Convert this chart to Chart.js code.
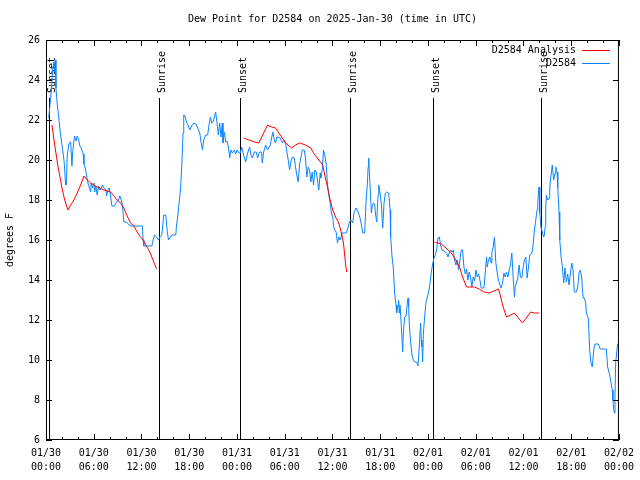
<!DOCTYPE html>
<html>
<head>
<meta charset="utf-8">
<script src="https://cdn.jsdelivr.net/npm/chart.js@4/dist/chart.umd.min.js"></script>
<style>
  html, body { margin: 0; padding: 0; background: #fff; }
  canvas { display: block; }
</style>
</head>
<body>
<canvas id="chart" width="640" height="480"></canvas>
<script>
// hours since 2025-01-30 00:00 UTC
var obsHours = [0.34,0.66,0.84,1.0,1.09,1.17,1.25,1.42,1.59,1.76,1.92,2.09,2.26,2.35,2.42,2.51,2.6,2.67,2.85,2.92,
  3.1,3.26,3.35,3.51,3.6,3.76,3.93,4.1,4.26,4.43,4.68,4.77,4.93,5.11,5.27,5.43,5.61,5.68,5.86,6.02,
  6.11,6.27,6.43,6.61,6.77,6.94,7.11,7.28,7.53,7.61,7.78,7.94,8.12,8.28,8.62,8.78,9.12,9.28,9.45,9.62,
  9.78,10.12,10.45,10.7,11.88,12.13,12.2,12.29,13.3,13.46,13.63,13.89,14.14,14.3,14.55,14.8,15.05,15.22,15.39,15.55,
  15.81,16.31,16.39,16.56,16.72,16.9,17.06,17.22,17.31,17.47,17.65,17.9,18.06,18.31,18.56,18.82,19.07,19.32,19.48,19.66,
  19.82,20.07,20.32,20.48,20.66,20.82,20.99,21.16,21.32,21.49,21.66,21.83,21.99,22.16,22.24,22.42,22.58,22.74,22.92,23.08,
  23.24,23.42,23.67,23.83,24.0,24.25,24.42,24.59,24.84,25.09,25.34,25.59,25.75,25.93,26.18,26.43,26.59,26.84,27.09,27.18,
  27.35,27.6,27.85,28.19,28.35,28.51,28.69,28.85,29.01,29.44,29.69,29.94,30.1,30.27,30.44,30.61,30.77,30.95,31.2,31.36,
  31.52,31.7,31.86,32.02,32.2,32.45,32.61,32.78,32.95,33.12,33.28,33.45,33.62,33.78,33.96,34.12,34.28,34.46,34.53,34.71,
  34.87,35.03,35.21,35.37,35.54,35.71,35.87,36.04,36.13,36.29,36.46,36.63,36.79,36.97,37.22,37.54,37.72,37.97,38.13,38.3,
  38.55,38.72,38.97,39.22,39.47,39.64,39.8,40.05,40.23,40.39,40.48,40.55,40.64,40.81,40.89,40.98,41.14,41.31,41.39,41.56,
  41.73,41.81,41.98,42.15,42.31,42.48,42.65,42.81,43.06,43.24,43.31,43.49,43.65,43.81,43.99,44.06,44.24,44.31,44.4,44.49,
  44.66,44.82,44.91,45.07,45.25,45.41,45.5,45.57,45.66,45.82,46.0,46.16,46.32,46.57,46.75,46.91,47.08,47.16,47.25,47.33,
  47.42,47.58,47.75,47.92,48.08,48.25,48.42,48.59,48.76,48.92,49.09,49.26,49.43,49.59,49.76,50.01,50.18,50.34,50.51,50.68,
  50.84,51.01,51.18,51.34,51.52,51.68,51.84,52.02,52.18,52.35,52.52,52.69,52.85,53.02,53.18,53.35,53.52,53.69,53.85,54.03,
  54.19,54.36,54.53,54.69,55.03,55.19,55.36,55.45,55.61,55.78,55.94,56.03,56.19,56.36,56.53,56.7,56.86,57.04,57.2,57.37,
  57.54,57.7,57.87,58.04,58.2,58.36,58.54,58.7,58.87,58.96,59.12,59.29,59.46,59.62,59.8,59.96,60.12,60.3,60.46,60.63,
  60.8,61.05,61.21,61.38,61.55,61.71,61.8,61.88,61.96,62.05,62.21,62.38,62.55,62.63,62.72,62.8,62.88,63.05,63.22,63.3,
  63.38,63.55,63.62,63.8,63.97,64.06,64.22,64.31,64.47,64.56,64.73,64.89,65.06,65.22,65.39,65.56,65.73,65.89,66.07,66.23,
  66.39,66.64,66.82,66.98,67.15,67.32,67.49,67.65,67.82,67.9,68.15,68.32,68.49,68.65,68.83,68.99,69.4,69.65,70.41,70.58,
  70.74,70.91,71.16,71.25,71.33,71.42,71.5,71.59,71.75,71.84,72.0];
var obsDewpt = [22.1,23.4,24.5,24.9,24.4,25.0,23.6,22.75,22.2,21.5,21.0,20.5,20.0,19.5,19.0,18.75,19.35,20.2,20.75,20.85,
  20.9,19.7,20.35,21.0,21.2,20.95,21.2,21.0,20.7,20.6,20.3,19.8,19.6,19.2,18.85,18.65,18.4,18.85,18.6,18.85,
  18.4,18.7,18.25,18.7,18.5,18.6,18.75,18.6,18.5,18.2,18.5,18.6,18.2,17.7,17.7,17.85,18.0,18.2,18.0,17.7,
  16.9,16.9,16.75,16.7,16.7,16.7,16.0,15.7,15.7,16.0,16.25,16.15,16.0,16.15,16.25,17.25,17.25,16.5,16.0,16.1,
  16.25,16.25,16.7,17.2,17.85,18.5,19.7,21.35,22.25,22.2,21.9,21.7,21.5,21.7,21.85,21.8,21.6,21.35,20.9,20.5,
  21.0,21.25,21.25,21.75,22.15,21.85,21.9,22.15,22.4,21.85,21.25,21.85,21.15,21.85,20.85,21.4,20.9,20.95,20.65,20.1,
  20.5,20.35,20.5,20.3,20.5,20.35,20.35,20.65,20.25,19.9,20.35,20.65,20.25,20.1,20.4,20.4,20.1,20.4,20.4,19.85,
  20.4,20.75,20.5,20.75,21.1,21.4,21.0,20.85,21.15,21.1,20.85,21.0,20.85,20.4,20.0,19.5,19.9,20.15,20.1,19.65,
  19.25,18.9,19.75,20.1,20.5,20.5,20.1,19.15,19.65,19.5,18.9,19.4,18.75,19.5,19.4,19.0,18.5,19.35,19.1,19.5,
  20.5,20.25,19.8,18.8,18.25,17.85,17.35,17.15,16.7,16.5,16.4,15.85,16.15,16.0,16.35,16.35,16.35,16.65,16.9,17.0,
  16.85,17.4,17.6,17.4,17.1,16.75,16.35,16.35,18.0,18.85,19.65,20.1,19.35,18.0,17.35,17.65,17.85,17.8,17.35,16.9,
  18.25,18.75,18.35,17.75,16.6,17.85,18.35,18.4,18.35,17.5,16.15,15.15,14.6,13.35,12.75,12.35,12.75,13.0,12.35,12.75,
  11.65,10.4,11.4,12.15,12.2,12.85,13.1,12.7,11.75,10.9,10.25,10.0,9.9,9.9,9.7,10.65,11.85,11.0,10.65,9.9,
  11.3,12.15,12.9,13.15,13.4,13.8,14.4,14.8,15.1,15.25,15.5,16.1,16.15,15.75,15.5,15.45,15.4,15.35,15.15,15.35,
  15.5,15.4,15.5,15.0,14.75,15.0,14.5,15.0,15.5,15.5,14.65,14.3,14.55,14.0,14.4,14.15,13.65,14.15,13.95,14.5,
  14.15,14.3,14.0,13.6,13.6,14.3,15.15,14.65,15.0,15.15,14.85,15.35,15.65,16.15,14.85,14.35,14.0,13.75,13.6,13.85,
  14.35,14.15,14.4,14.15,14.5,14.75,15.35,14.15,13.15,13.65,13.85,14.1,14.75,14.15,14.1,14.65,15.0,15.15,14.1,14.65,
  15.25,15.35,15.75,16.5,17.0,17.5,17.85,18.35,18.65,17.35,16.6,16.4,16.15,16.25,16.65,17.65,18.25,18.0,18.1,18.5,
  19.0,19.5,19.75,19.0,19.35,19.65,19.4,18.6,17.4,16.0,15.15,14.65,13.85,14.6,13.9,14.3,13.75,14.3,14.85,14.5,
  13.4,13.4,13.65,14.35,14.5,14.1,13.1,13.1,12.85,12.35,12.1,10.5,9.85,9.65,10.5,10.8,10.8,10.55,10.55,9.65,
  9.4,9.1,8.5,8.0,7.6,7.35,8.15,9.85,10.5,10.8,10.8];

// analysis runs, null separates them
var anaHours = [0.75,1.0,1.25,1.51,1.76,2.01,2.35,2.76,3.1,3.51,3.93,4.35,4.77,5.18,5.61,6.43,7.28,8.12,8.53,8.94,
  9.37,9.78,10.2,10.62,11.04,11.45,11.88,12.2,13.05,13.89,
  19.0,
  24.84,25.5,26.18,26.76,27.35,27.85,28.35,28.85,29.44,30.1,30.86,31.36,31.86,32.61,33.28,33.62,34.28,34.78,35.03,35.37,
  35.71,36.04,36.38,36.79,37.13,37.38,37.63,37.79,
  43.0,
  48.83,49.17,49.67,50.27,50.93,51.52,52.02,52.35,52.85,53.85,54.44,55.03,55.69,56.28,56.86,57.11,57.45,57.87,58.37,58.87,
  59.37,59.87,60.37,60.88,61.38,61.96];
var anaDewpt = [21.75,21.0,20.35,19.65,19.15,18.6,18.0,17.5,17.75,18.0,18.35,18.75,19.2,19.0,18.85,18.65,18.5,18.4,18.2,18.0,
  17.85,17.6,17.2,16.85,16.7,16.4,16.15,16.0,15.4,14.55,
  null,
  21.1,21.0,20.9,20.85,21.35,21.75,21.65,21.6,21.25,20.85,20.6,20.75,20.85,20.75,20.6,20.35,20.0,19.75,19.25,18.65,
  18.0,17.5,17.15,16.85,16.35,15.85,14.85,14.4,
  null,
  15.9,15.85,15.8,15.6,15.35,15.0,14.6,14.15,13.65,13.65,13.55,13.4,13.35,13.45,13.55,13.2,12.65,12.15,12.25,12.35,
  12.1,11.85,12.1,12.4,12.35,12.35];

var sunHours = [0.41, 14.17, 24.35, 38.18, 48.6, 62.25];
var sunLabels = ['Sunset', 'Sunrise', 'Sunset', 'Sunrise', 'Sunset', 'Sunrise'];

var tickDates = ['01/30','01/30','01/30','01/30','01/31','01/31','01/31','01/31','02/01','02/01','02/01','02/01','02/02'];
var tickTimes = ['00:00','06:00','12:00','18:00','00:00','06:00','12:00','18:00','00:00','06:00','12:00','18:00','00:00'];

var FONT = "'DejaVu Sans Mono', 'Liberation Mono', monospace";

function pts(xs, ys) {
  return xs.map(function (h, i) { return { x: h, y: ys[i] }; });
}

// gnuplot-like frame: border box, inward ticks, sun markers, legend, title
var gnuFrame = {
  id: 'gnuFrame',
  beforeDatasetsDraw: function (chart) {
    var ctx = chart.ctx, a = chart.chartArea, xs = chart.scales.x;
    ctx.save();
    ctx.strokeStyle = '#000';
    ctx.lineWidth = 1;
    ctx.fillStyle = '#000';
    ctx.font = '10px ' + FONT;
    sunHours.forEach(function (h, i) {
      var px = Math.round(xs.getPixelForValue(h)) + 0.5;
      ctx.beginPath();
      ctx.moveTo(px, 98);
      ctx.lineTo(px, a.bottom);
      ctx.stroke();
      ctx.save();
      ctx.translate(px + 5, 93);
      ctx.rotate(-Math.PI / 2);
      ctx.textAlign = 'left';
      ctx.textBaseline = 'alphabetic';
      ctx.fillText(sunLabels[i], 0, 0);
      ctx.restore();
    });
    ctx.restore();
  },
  afterDraw: function (chart) {
    var ctx = chart.ctx, a = chart.chartArea;
    var xs = chart.scales.x, ys = chart.scales.y;
    ctx.save();
    ctx.strokeStyle = '#000';
    ctx.lineWidth = 1;
    ctx.strokeRect(a.left + 0.5, a.top + 0.5, a.right - a.left - 1, a.bottom - a.top - 1);

    ctx.beginPath();
    for (var h = 0; h <= 72; h += 2) {
      var px = Math.round(xs.getPixelForValue(h)) + 0.5;
      var len = (h % 6 === 0) ? 6 : 3;
      ctx.moveTo(px, a.bottom); ctx.lineTo(px, a.bottom - len);
      ctx.moveTo(px, a.top); ctx.lineTo(px, a.top + len);
    }
    ys.ticks.forEach(function (t) {
      var py = Math.round(ys.getPixelForValue(t.value)) + 0.5;
      ctx.moveTo(a.left, py); ctx.lineTo(a.left + 6, py);
      ctx.moveTo(a.right, py); ctx.lineTo(a.right - 6, py);
    });
    ctx.stroke();

    // legend: text then sample line, top right
    ctx.font = '10px ' + FONT;
    ctx.textAlign = 'right';
    ctx.textBaseline = 'middle';
    ctx.fillStyle = '#000';
    chart.data.datasets.forEach(function (ds, i) {
      var ly = 50 + i * 13;
      ctx.fillText(ds.label, 576, ly);
      ctx.strokeStyle = ds.borderColor;
      ctx.beginPath();
      ctx.moveTo(582, ly + 0.5);
      ctx.lineTo(610, ly + 0.5);
      ctx.stroke();
    });

    ctx.textAlign = 'center';
    ctx.fillText('Dew Point for D2584 on 2025-Jan-30 (time in UTC)', (a.left + a.right) / 2, 19);
    ctx.restore();
  }
};

new Chart(document.getElementById('chart').getContext('2d'), {
  type: 'line',
  data: {
    datasets: [
      {
        label: 'D2584 Analysis',
        data: pts(anaHours, anaDewpt),
        borderColor: '#ff0000',
        borderWidth: 1,
        pointRadius: 0,
        spanGaps: false,
        tension: 0
      },
      {
        label: 'D2584',
        data: pts(obsHours, obsDewpt),
        borderColor: '#0a84ff',
        borderWidth: 1,
        pointRadius: 0,
        tension: 0
      }
    ]
  },
  options: {
    responsive: false,
    animation: false,
    layout: { padding: { top: 40, right: 20, left: 0, bottom: 0 } },
    plugins: { legend: { display: false }, title: { display: false }, tooltip: { enabled: false } },
    scales: {
      x: {
        type: 'linear',
        min: 0,
        max: 72,
        afterFit: function (s) { s.height = 40; },
        grid: { drawOnChartArea: false, drawTicks: false },
        border: { display: false },
        ticks: {
          stepSize: 6,
          autoSkip: false,
          maxRotation: 0,
          padding: 6,
          color: '#000',
          font: { family: FONT, size: 10, lineHeight: 1.4 },
          callback: function (v) { var i = Math.round(v / 6); return [tickDates[i], tickTimes[i]]; }
        }
      },
      y: {
        min: 6,
        max: 26,
        afterFit: function (s) { s.width = 46; },
        grid: { drawOnChartArea: false, drawTicks: false },
        border: { display: false },
        title: { display: true, text: 'degrees F', color: '#000', font: { family: FONT, size: 10 }, padding: { top: 4, bottom: 0 } },
        ticks: { stepSize: 2, padding: 6, color: '#000', font: { family: FONT, size: 10 } }
      }
    }
  },
  plugins: [gnuFrame]
});
</script>
</body>
</html>
